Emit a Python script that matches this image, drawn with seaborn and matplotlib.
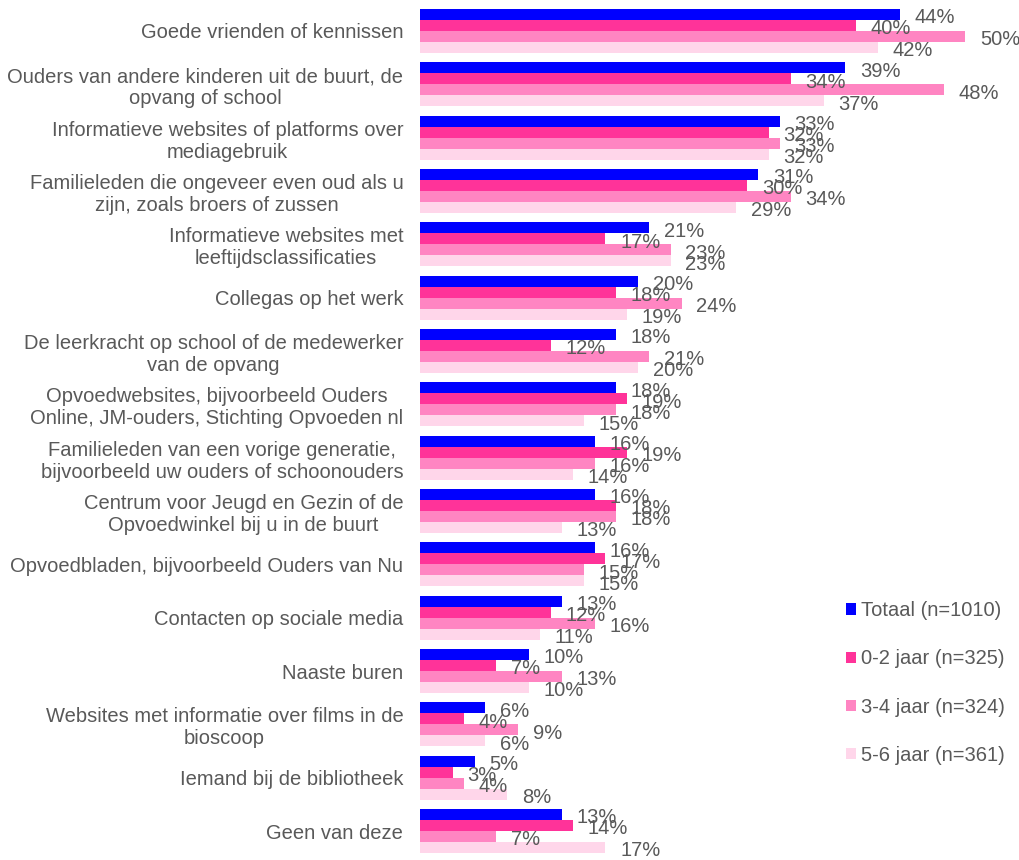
import pandas as pd
import matplotlib.pyplot as plt
import seaborn as sns

# Bronnen van informatie over mediagebruik (in %)
items = [
    "Goede vrienden of kennissen",
    "Ouders van andere kinderen uit de buurt, de\nopvang of school",
    "Informatieve websites of platforms over\nmediagebruik",
    "Familieleden die ongeveer even oud als u\nzijn, zoals broers of zussen",
    "Informatieve websites met\nleeftijdsclassificaties",
    "Collegas op het werk",
    "De leerkracht op school of de medewerker\nvan de opvang",
    "Opvoedwebsites, bijvoorbeeld Ouders\nOnline, JM-ouders, Stichting Opvoeden nl",
    "Familieleden van een vorige generatie,\nbijvoorbeeld uw ouders of schoonouders",
    "Centrum voor Jeugd en Gezin of de\nOpvoedwinkel bij u in de buurt",
    "Opvoedbladen, bijvoorbeeld Ouders van Nu",
    "Contacten op sociale media",
    "Naaste buren",
    "Websites met informatie over films in de\nbioscoop",
    "Iemand bij de bibliotheek",
    "Geen van deze",
]
groepen = ["Totaal (n=1010)", "0-2 jaar (n=325)", "3-4 jaar (n=324)", "5-6 jaar (n=361)"]

totaal = [44, 39, 33, 31, 21, 20, 18, 18, 16, 16, 16, 13, 10, 6, 5, 13]
jaar_0_2 = [40, 34, 32, 30, 17, 18, 12, 19, 19, 18, 17, 12, 7, 4, 3, 14]
jaar_3_4 = [50, 48, 33, 34, 23, 24, 21, 18, 16, 18, 15, 16, 13, 9, 4, 7]
jaar_5_6 = [42, 37, 32, 29, 23, 19, 20, 15, 14, 13, 15, 11, 10, 6, 8, 17]

kleuren = ["#0000FF", "#FF3399", "#FF85C2", "#FFD6EA"]

# long format voor seaborn
rows = []
for g, vals in zip(groepen, [totaal, jaar_0_2, jaar_3_4, jaar_5_6]):
    for it, v in zip(items, vals):
        rows.append({"item": it, "groep": g, "pct": v})
df = pd.DataFrame(rows)

sns.set_style("white")
plt.rcParams["font.family"] = ["Liberation Sans", "DejaVu Sans"]
tekst = "#595959"
fs = 14.5

fig = plt.figure(figsize=(10.2, 8.6), dpi=100)
ax = fig.add_axes([420 / 1020, 2.3 / 860, 600 / 1020, 853.4 / 860])

sns.barplot(data=df, x="pct", y="item", hue="groep", order=items, hue_order=groepen,
            palette=kleuren, saturation=1, width=0.82, orient="h", linewidth=0, ax=ax)

# labels met percentages
for cont in ax.containers:
    for bar in cont:
        w = bar.get_width()
        y = bar.get_y() + bar.get_height() / 2
        ax.annotate(f"{w:.0f}%", (w, y), xytext=(10.5, -2.4), textcoords="offset points",
                    ha="left", va="center", fontsize=fs, color=tekst)

ax.set_xlim(0, 55)
ax.set_ylim(len(items) - 0.5, -0.5)
ax.set_xlabel("")
ax.set_ylabel("")
ax.set_xticks([])
ax.tick_params(axis="y", length=0, pad=12, labelsize=fs, labelcolor=tekst)
for lab in ax.get_yticklabels():
    lab.set_multialignment("center")
sns.despine(ax=ax, left=True, bottom=True)

handles, labels = ax.get_legend_handles_labels()
ax.get_legend().remove()
leg = fig.legend(handles, labels, loc="center left", bbox_to_anchor=(828 / 1020, 1 - 683 / 860),
                 frameon=False, fontsize=fs, handlelength=0.5, handleheight=0.5,
                 handletextpad=0.25, labelspacing=1.45)
for t in leg.get_texts():
    t.set_color(tekst)

fig.savefig("out.png", dpi=100)
